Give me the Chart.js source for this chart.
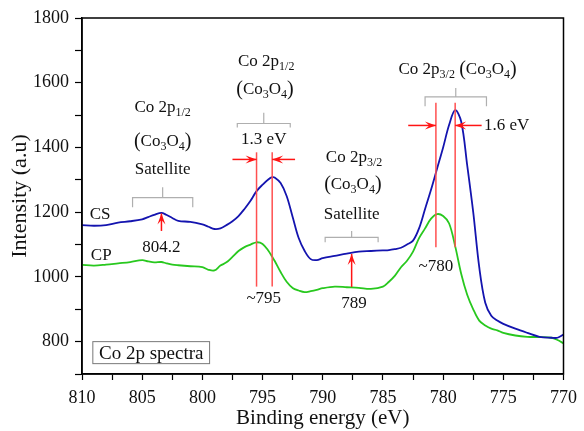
<!DOCTYPE html>
<html>
<head>
<meta charset="utf-8">
<script src="https://cdn.jsdelivr.net/npm/chart.js@4"></script>
<style>
html, body { margin: 0; padding: 0; background: #fff; }
</style>
</head>
<body>
<canvas id="xpsChart" width="584" height="431"></canvas>
<script>
// binding energy grid (eV) shared by both spectra
let energy = [810, 809, 808, 807, 806, 805, 804.5, 804, 803.4, 803, 802.5, 802, 801, 800, 799.5, 799, 798.5, 798, 797.5, 797,
    796.5, 796, 795.5, 795, 794.5, 794.2, 794, 793.5, 793, 792.5, 792, 791.5, 791, 790.5, 790, 789, 788, 787, 786, 785,
    784.5, 784, 783.5, 783, 782.5, 782, 781.5, 781, 780.5, 780, 779.5, 779, 778.5, 778, 777.5, 777, 776.5, 776, 775.5, 775,
    774, 773, 772, 771, 770.5, 770];

let csData = [1160, 1158, 1160, 1168, 1172, 1178, 1185, 1192, 1198, 1192, 1182, 1173, 1170, 1162, 1155, 1148, 1150, 1160, 1172, 1188,
    1210, 1235, 1265, 1285, 1302, 1308, 1307, 1290, 1250, 1185, 1120, 1080, 1055, 1052, 1058, 1065, 1072, 1078, 1080, 1082,
    1083, 1086, 1090, 1100, 1112, 1150, 1210, 1270, 1335, 1400, 1470, 1515, 1480, 1345, 1200, 1030, 920, 880, 865, 855,
    840, 827, 815, 812, 812, 822];

let cpData = [1037, 1035, 1038, 1042, 1046, 1052, 1048, 1045, 1046, 1042, 1038, 1036, 1033, 1030, 1022, 1020, 1035, 1045, 1062, 1080,
    1092, 1100, 1107, 1102, 1080, 1062, 1050, 1015, 985, 966, 958, 953, 956, 960, 965, 970, 968, 966, 963, 970,
    985, 1004, 1030, 1050, 1078, 1120, 1150, 1180, 1194, 1188, 1165, 1095, 1010, 945, 900, 865, 850, 840, 835, 827,
    819, 815, 814, 812, 805, 795];

let xTickLabels = [810, 805, 800, 795, 790, 785, 780, 775, 770];
let yTickLabels = [800, 1000, 1200, 1400, 1600, 1800];

// annotation anchors in data units (energy, intensity)
let redLines = [[795.5, 970, 1385], [794.2, 970, 1385], [780.6, 1092, 1538], [779.0, 1092, 1538]];
let widthArrows = [[797.5, 795.5, 1363], [792.3, 794.2, 1363], [782.9, 780.6, 1468], [776.8, 779.0, 1468]];
let upArrows = [[803.4, 1142, 1196], [787.6, 969, 1071]];
let brackets = [[805.8, 800.8, 1245, 1215, 1277], [789.8, 785.4, 1122, 1107, 1142],
    [797.1, 792.7, 1474, 1462, 1507], [781.5, 776.4, 1556, 1527, 1584]];
let notes = [
    ["Co 2p_{1/2}", 803.3, 1523, "center"],
    ["(Co_{3}O_{4})", 803.3, 1418, "center"],
    ["Satellite", 803.3, 1332, "center"],
    ["804.2", 803.4, 1091, "center"],
    ["Co 2p_{1/2}", 794.7, 1665, "center"],
    ["(Co_{3}O_{4})", 794.8, 1578, "center"],
    ["1.3 eV", 794.9, 1425, "center"],
    ["~795", 794.9, 932, "center"],
    ["Co 2p_{3/2}", 787.4, 1369, "center"],
    ["(Co_{3}O_{4})", 787.5, 1286, "center"],
    ["Satellite", 787.6, 1194, "center"],
    ["789", 787.4, 917, "center"],
    ["Co 2p_{3/2} (Co_{3}O_{4})", 778.8, 1640, "center"],
    ["1.6 eV", 776.6, 1468, "left"],
    ["~780", 780.6, 1031, "center"],
    ["CS", 808.5, 1194, "center"],
    ["CP", 808.4, 1065, "center"]
];
let boxLabel = ["Co 2p spectra", 809.1, 799.4, 800, 732];

const SERIF = "'Liberation Serif', 'Times New Roman', serif";

function drawRich(ctx, str, x, y, size, align) {
    // split into [text, kind]: kind 0 normal, 1 subscript, 2 bracket
    let parts = [];
    let re = /_\{([^}]*)\}|[()]/g;
    let last = 0, m;
    while ((m = re.exec(str)) !== null) {
        if (m.index > last) parts.push([str.slice(last, m.index), 0]);
        if (m[1] !== undefined) parts.push([m[1], 1]);
        else parts.push([m[0], 2]);
        last = re.lastIndex;
    }
    if (last < str.length) parts.push([str.slice(last), 0]);
    let sizes = [size, Math.round(size * 0.68), Math.round(size * 1.15)];
    let total = 0;
    parts.forEach(p => {
        ctx.font = sizes[p[1]] + "px " + SERIF;
        p.push(ctx.measureText(p[0]).width);
        total += p[2];
    });
    let cx = align === "left" ? x : x - total / 2;
    ctx.textAlign = "left";
    ctx.textBaseline = "middle";
    parts.forEach(p => {
        ctx.font = sizes[p[1]] + "px " + SERIF;
        ctx.fillText(p[0], cx, p[1] === 1 ? y + size * 0.32 : y);
        cx += p[2];
    });
}

function arrowHead(ctx, x, y, dx, dy) {
    let len = 11, half = 4;
    let px = -dy, py = dx;
    ctx.beginPath();
    ctx.moveTo(x, y);
    ctx.lineTo(x - dx * len + px * half, y - dy * len + py * half);
    ctx.lineTo(x - dx * len * 0.6, y - dy * len * 0.6);
    ctx.lineTo(x - dx * len - px * half, y - dy * len - py * half);
    ctx.closePath();
    ctx.fill();
}

const annotate = {
    id: "annotate",
    afterDatasetsDraw(chart) {
        let ctx = chart.ctx;
        let xs = chart.scales.x, ys = chart.scales.y;
        let area = chart.chartArea;
        ctx.save();

        // frame on top and right
        ctx.strokeStyle = "#000";
        ctx.lineWidth = 1.5;
        ctx.strokeRect(area.left, area.top, area.right - area.left, area.bottom - area.top);

        ctx.strokeStyle = "rgb(255,80,80)";
        ctx.lineWidth = 1.5;
        redLines.forEach(l => {
            let px = xs.getPixelForValue(l[0]);
            ctx.beginPath();
            ctx.moveTo(px, ys.getPixelForValue(l[1]));
            ctx.lineTo(px, ys.getPixelForValue(l[2]));
            ctx.stroke();
        });

        ctx.strokeStyle = "rgb(255,20,20)";
        ctx.fillStyle = "rgb(255,20,20)";
        widthArrows.forEach(a => {
            let x1 = xs.getPixelForValue(a[0]), x2 = xs.getPixelForValue(a[1]);
            let py = ys.getPixelForValue(a[2]);
            ctx.beginPath();
            ctx.moveTo(x1, py);
            ctx.lineTo(x2, py);
            ctx.stroke();
            arrowHead(ctx, x2, py, x2 > x1 ? 1 : -1, 0);
        });
        upArrows.forEach(a => {
            let px = xs.getPixelForValue(a[0]);
            let y1 = ys.getPixelForValue(a[1]), y2 = ys.getPixelForValue(a[2]);
            ctx.beginPath();
            ctx.moveTo(px, y1);
            ctx.lineTo(px, y2);
            ctx.stroke();
            arrowHead(ctx, px, y2, 0, -1);
        });

        ctx.strokeStyle = "rgb(175,175,175)";
        ctx.lineWidth = 1.2;
        brackets.forEach(b => {
            let x1 = xs.getPixelForValue(b[0]), x2 = xs.getPixelForValue(b[1]);
            let yh = ys.getPixelForValue(b[2]), ye = ys.getPixelForValue(b[3]), yt = ys.getPixelForValue(b[4]);
            let xm = (x1 + x2) / 2;
            ctx.beginPath();
            ctx.moveTo(x1, ye);
            ctx.lineTo(x1, yh);
            ctx.lineTo(x2, yh);
            ctx.lineTo(x2, ye);
            ctx.moveTo(xm, yh);
            ctx.lineTo(xm, yt);
            ctx.stroke();
        });

        ctx.fillStyle = "#111";
        notes.forEach(n => {
            drawRich(ctx, n[0], xs.getPixelForValue(n[1]), ys.getPixelForValue(n[2]), 17, n[3]);
        });

        // labelled box in the lower left corner
        let bx1 = xs.getPixelForValue(boxLabel[1]), bx2 = xs.getPixelForValue(boxLabel[2]);
        let by1 = ys.getPixelForValue(boxLabel[3]), by2 = ys.getPixelForValue(boxLabel[4]);
        ctx.strokeStyle = "rgb(120,120,120)";
        ctx.lineWidth = 1;
        ctx.strokeRect(bx1, by1, bx2 - bx1, by2 - by1);
        ctx.fillStyle = "#111";
        drawRich(ctx, boxLabel[0], (bx1 + bx2) / 2, (by1 + by2) / 2 + 1, 19, "center");
        ctx.restore();
    }
};

let ctx = document.getElementById("xpsChart").getContext("2d");

let xpsChart = new Chart(ctx, {
    type: "line",
    data: {
        datasets: [
            {
                label: "CS",
                data: energy.map((e, i) => ({ x: e, y: csData[i] })),
                borderColor: "rgb(20,20,175)",
                borderWidth: 1.8,
                pointRadius: 0,
                tension: 0.35
            },
            {
                label: "CP",
                data: energy.map((e, i) => ({ x: e, y: cpData[i] })),
                borderColor: "rgb(40,200,30)",
                borderWidth: 1.8,
                pointRadius: 0,
                tension: 0.35
            }
        ]
    },
    options: {
        responsive: false,
        animation: false,
        layout: { padding: { top: 18, right: 17, left: 0, bottom: 0 } },
        plugins: { legend: { display: false }, tooltip: { enabled: false } },
        scales: {
            x: {
                type: "linear",
                reverse: true,
                min: 770,
                max: 810,
                afterFit(scale) { scale.height = 57; },
                border: { display: true, color: "#000", width: 1.5 },
                grid: { drawOnChartArea: false, drawTicks: true, tickLength: 6, tickColor: "#000", tickWidth: 1.2 },
                ticks: {
                    stepSize: 2.5,
                    autoSkip: false,
                    maxRotation: 0,
                    padding: 7,
                    color: "#111",
                    font: { family: SERIF, size: 18 },
                    callback: v => xTickLabels.includes(v) ? String(v) : ""
                },
                title: {
                    display: true,
                    text: "Binding energy (eV)",
                    color: "#111",
                    font: { family: SERIF, size: 21 },
                    padding: { top: 0, bottom: 0 }
                }
            },
            y: {
                min: 700,
                max: 1800,
                afterFit(scale) { scale.width = 82; },
                border: { display: true, color: "#000", width: 1.5 },
                grid: { drawOnChartArea: false, drawTicks: true, tickLength: 7, tickColor: "#000", tickWidth: 1.2 },
                ticks: {
                    stepSize: 100,
                    autoSkip: false,
                    padding: 6,
                    color: "#111",
                    font: { family: SERIF, size: 18 },
                    callback: v => yTickLabels.includes(v) ? String(v) : ""
                },
                title: {
                    display: true,
                    text: "Intensity (a.u)",
                    color: "#111",
                    font: { family: SERIF, size: 22 },
                    padding: { top: 7, bottom: 0 }
                }
            }
        }
    },
    plugins: [annotate]
});
</script>
</body>
</html>
